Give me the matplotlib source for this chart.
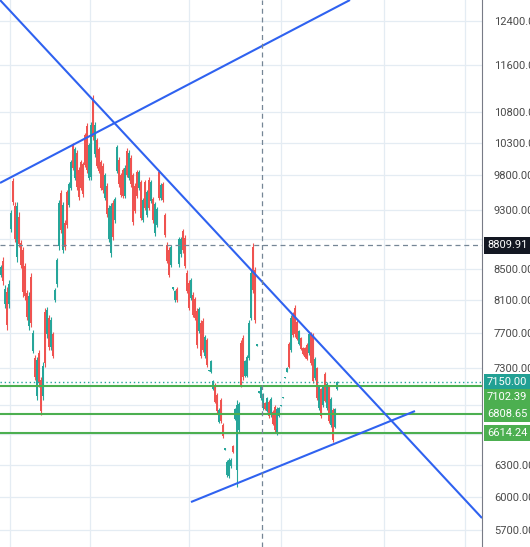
import numpy as np
import matplotlib.pyplot as plt

# daily candles, oldest first
opens = [
    8420, 8600, 8050, 8200, 8060, 9030, 9720, 9350, 8650, 9200,
    8840, 8740, 8530, 8190, 7790, 8390, 7500, 7420, 7000, 7470,
    7170, 7000, 7960, 7690, 7880, 7540, 7690, 8100, 8300, 8800,
    9540, 8750, 9120, 9550, 9370, 9620, 10260, 9770, 10150, 9890,
    10000, 9970, 10420, 10570, 9770, 9780, 10990, 10120, 10340, 10200,
    10000, 9950, 9470, 9650, 8890, 8700, 9400, 9150, 9870, 10040,
    9800, 9880, 9500, 10180, 9770, 10070, 9800, 9650, 9850, 9610,
    9700, 9160, 9700, 9230, 9740, 9430, 9450, 8970, 9090, 9850,
    9470, 9670, 9220, 8820, 8750, 8550, 8235, 8100, 8240, 8560,
    8690, 9000, 8910, 8450, 8320, 8130, 8170, 8110, 7970, 7730,
    7830, 7850, 7440, 7620, 7274, 7265, 7075, 7120, 7010, 6730,
    6960, 6700, 6450, 6200, 6190, 6285, 6485, 6760, 6250, 6640,
    7590, 7650, 7220, 7220, 7420, 7890, 8790, 8480, 7558, 7035,
    6975, 6870, 6925, 6845, 6940, 6795, 6835, 6885, 6610, 6790,
    6895, 6979, 7196, 7265, 7580, 7510, 7930, 8010, 7840, 7580,
    7645, 7530, 7530, 7570, 7470, 7700, 7680, 7190, 7300, 6870,
    7070, 6900, 7240, 6870, 7100, 6695, 6855, 6680, 7075,
]
highs = [
    8549, 8653, 8291, 8266, 8355, 9297, 9763, 9412, 9412, 9269,
    8881, 8787, 8575, 8228, 8203, 8444, 7741, 7451, 7428, 7508,
    7205, 7372, 8005, 8018, 7920, 7896, 7717, 8253, 8640, 9441,
    9586, 9412, 9156, 9586, 9703, 10035, 10299, 10237, 10190, 9929,
    10035, 10004, 10457, 10618, 10299, 10634, 11082, 10634, 10378, 10237,
    10035, 9989, 9838, 9689, 9368, 9397, 9441, 9484, 10268, 10081,
    9838, 9913, 9959, 10221, 10190, 10112, 9838, 9689, 9883, 9883,
    9733, 9470, 9733, 9586, 9778, 9733, 9484, 9412, 9340, 9883,
    9689, 9703, 9255, 8854, 8787, 8814, 8266, 8228, 8266, 8922,
    8922, 9032, 8949, 8483, 8355, 8380, 8203, 8141, 8005, 8018,
    7860, 7884, 7682, 7647, 7282, 7394, 7172, 7139, 7031, 6872,
    6977, 6716, 6465, 6347, 6366, 6366, 6494, 6872, 6956, 6935,
    7623, 7682, 7394, 7451, 7860, 8483, 8841, 8522, 7577, 7052,
    7117, 7031, 6935, 6988, 6956, 6988, 6851, 6903, 6882, 6882,
    6903, 6988, 7205, 7316, 7600, 7920, 7957, 8042, 7860, 7741,
    7659, 7542, 7542, 7588, 7706, 7717, 7706, 7428, 7316, 7117,
    7085, 7117, 7260, 7150, 7117, 6988, 6872, 6872, 7160,
]
lows = [
    8393, 8291, 8005, 7741, 8005, 8990, 9368, 8854, 8588, 8787,
    8509, 8141, 8104, 7860, 7741, 7776, 7474, 7172, 6956, 7095,
    6799, 6956, 7316, 7647, 7508, 7508, 7417, 8080, 8266, 8747,
    8977, 8707, 8747, 9046, 9340, 9586, 9883, 9733, 9586, 9441,
    9586, 9484, 9929, 9838, 9733, 9733, 10346, 10081, 9913, 9838,
    9586, 9542, 9441, 9199, 8854, 8653, 8881, 9115, 9838, 9630,
    9484, 9470, 9470, 9778, 9733, 9630, 9087, 9255, 9470, 9586,
    9156, 9128, 9297, 9199, 9297, 9397, 9115, 8936, 9060, 9441,
    9441, 9412, 8922, 8575, 8393, 8522, 8228, 8080, 8080, 8522,
    8653, 8707, 8509, 8191, 7981, 8104, 7896, 7860, 7531, 7706,
    7417, 7485, 7417, 7316, 7271, 7249, 7063, 6924, 6820, 6716,
    6716, 6564, 6445, 6184, 6175, 6270, 6416, 6747, 6091, 6614,
    7095, 7172, 7205, 7205, 7394, 7860, 8191, 7824, 7554, 7031,
    6956, 6851, 6851, 6830, 6768, 6778, 6696, 6625, 6594, 6778,
    6893, 6977, 7194, 7260, 7305, 7485, 7659, 7659, 7623, 7565,
    7508, 7451, 7417, 7394, 7451, 7338, 7139, 7172, 6956, 6851,
    6768, 6882, 6935, 6851, 6716, 6676, 6524, 6665, 7063,
]
closes = [
    8520, 8340, 8240, 7800, 8300, 9250, 9410, 8900, 9350, 8830,
    8550, 8200, 8150, 7900, 8150, 7830, 7700, 7200, 7390, 7140,
    6840, 7330, 7360, 7980, 7540, 7860, 7440, 8230, 8610, 9400,
    9020, 9370, 8780, 9080, 9670, 10000, 9920, 10200, 9630, 9480,
    9620, 9520, 9960, 9880, 10260, 10590, 10390, 10590, 9950, 9870,
    9620, 9580, 9800, 9240, 9330, 9350, 8920, 9450, 10230, 9670,
    9510, 9500, 9920, 9810, 10150, 9670, 9130, 9290, 9500, 9850,
    9190, 9440, 9330, 9550, 9330, 9700, 9150, 9380, 9310, 9470,
    9660, 9440, 8950, 8600, 8420, 8780, 8260, 8210, 8100, 8890,
    8890, 8740, 8540, 8220, 8010, 8350, 7920, 7890, 7560, 7990,
    7440, 7510, 7660, 7340, 7280, 7380, 7160, 6940, 6840, 6855,
    6735, 6580, 6460, 6330, 6350, 6350, 6425, 6860, 6900, 6910,
    7120, 7200, 7380, 7430, 7830, 8440, 8230, 7860, 7572, 7048,
    7100, 7010, 6860, 6975, 6785, 6970, 6710, 6640, 6865, 6870,
    6901, 6986, 7203, 7310, 7320, 7890, 7680, 7690, 7640, 7730,
    7520, 7460, 7430, 7410, 7690, 7360, 7160, 7410, 6980, 7100,
    6790, 7100, 6950, 7130, 6735, 6970, 6545, 6860, 7150,
]

# price scale
price_ticks = [12400, 11600, 10800, 10300, 9800, 9300, 8900, 8500, 8100,
               7700, 7300, 6900, 6600, 6300, 6000, 5700]
hidden_ticks = [8900, 6900, 6600]
time_grid = [4.5, 44.5, 94, 140, 191.5, 232]

# drawn trend lines (bar index, price)
falling_line = ([-0.5, 240.5], [12811, 5809])
rising_top_line = ([-0.5, 174.5], [9689, 12811])
support_line = ([95, 207], [5953, 6840])

# horizontal levels
last_price = 7150.00
levels = [7102.39, 6808.65, 6614.24]
crosshair_price = 8809.91
crosshair_bar = 130.5

UP = '#26a69a'
DOWN = '#ef5350'
GREEN = '#4caf50'
BLUE = '#2f62f0'

fig = plt.figure(figsize=(5.3, 5.47), dpi=100)
ax = fig.add_axes([0, 0, 482 / 530, 1])
ax.set_yscale('log')
ax.set_xlim(-0.5, 240.5)
ax.set_ylim(5558, 12811)

o = np.array(opens, float)
h = np.array(highs, float)
l = np.array(lows, float)
c = np.array(closes, float)
x = np.arange(len(o))
colors = np.where(c >= o, UP, DOWN)

ax.vlines(x, l, h, colors=colors, linewidth=0.8, zorder=2)
ax.bar(x, np.abs(c - o), bottom=np.minimum(o, c), width=0.9,
       color=colors, linewidth=0, zorder=2)

# trend lines
for xs, ys in (falling_line, rising_top_line, support_line):
    ax.plot(xs, ys, color=BLUE, linewidth=1.5, zorder=4,
            solid_capstyle='butt')

# horizontal levels
ax.axhline(last_price, color=UP, linewidth=1, linestyle=(0, (1, 2)), zorder=3)
for lv in levels:
    ax.axhline(lv, color=GREEN, linewidth=1.5, zorder=3)

# crosshair
ax.axhline(crosshair_price, color='#758696', linewidth=0.9,
           linestyle=(0, (4, 3)), zorder=5)
ax.axvline(crosshair_bar, color='#758696', linewidth=0.9,
           linestyle=(0, (4, 3)), zorder=5)

# axes / grid
labels = ['' if t in hidden_ticks else f'{t:.2f}' for t in price_ticks]
ax.set_yticks(price_ticks, labels=labels)
ax.minorticks_off()
ax.set_xticks(time_grid)
ax.yaxis.tick_right()
ax.tick_params(axis='y', length=0, pad=8.5, labelsize=8,
               labelcolor='#4a4a4a')
ax.tick_params(axis='x', length=0, labelbottom=False)
for lab in ax.get_yticklabels():
    lab.set_fontfamily('Roboto')
ax.grid(True, color='#e4ecf3', linewidth=0.9, zorder=0)
ax.set_axisbelow(True)
for side in ('top', 'left', 'bottom'):
    ax.spines[side].set_visible(False)
ax.spines['right'].set_color('#787b86')
ax.spines['right'].set_linewidth(0.8)


def price_tag(value, color, dy=0):
    ax.annotate(f'{value:.2f}', xy=(1, value),
                xycoords=('axes fraction', 'data'),
                xytext=(3.6, dy), textcoords='offset points',
                ha='left', va='center', color='white', fontsize=8,
                fontfamily='Roboto',
                bbox=dict(boxstyle='square,pad=0.3', fc=color, ec='none'),
                annotation_clip=False, zorder=10)


price_tag(crosshair_price, '#131722')
price_tag(last_price, '#22a094')
price_tag(levels[0], GREEN, dy=-7.9)
price_tag(levels[1], GREEN)
price_tag(levels[2], GREEN)

fig.savefig('out.png', dpi=100)
